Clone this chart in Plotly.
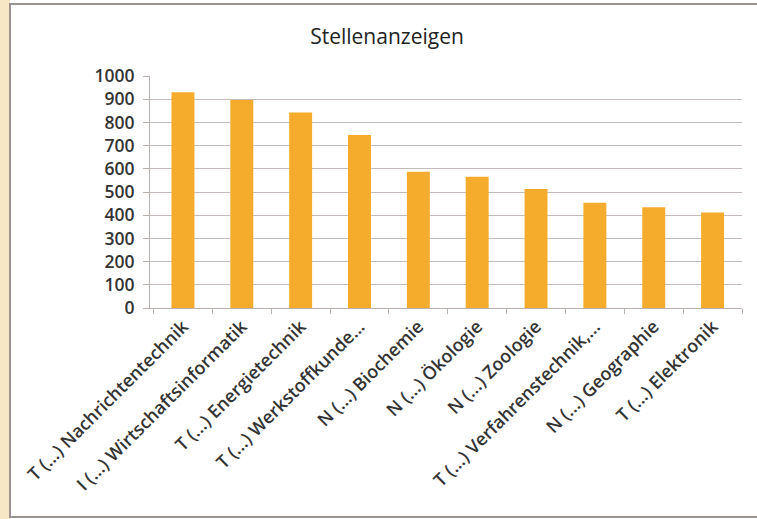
import plotly.graph_objects as go

# Stellenanzeigen je Studiengang
categories = [
    "T (...) Nachrichtentechnik",
    "I (...) Wirtschaftsinformatik",
    "T (...) Energietechnik",
    "T (...) Werkstoffkunde...",
    "N (...) Biochemie",
    "N (...) Ökologie",
    "N (...) Zoologie",
    "T (...) Verfahrenstechnik,...",
    "N (...) Geographie",
    "T (...) Elektronik",
]
values = [930, 897, 843, 746, 587, 566, 513, 454, 434, 412]
y_ticks = [0, 100, 200, 300, 400, 500, 600, 700, 800, 900, 1000]

W, H = 757, 519
L, R, T, B = 150, 15, 76, 211
pw, ph = W - L - R, H - T - B


def px_x(p):
    return (p - L) / pw


def px_y(p):
    return (H - B - p) / ph


fig = go.Figure(go.Bar(x=categories, y=values, marker_color="#F5AB2B",
                       marker_line_width=0))

fig.update_layout(
    width=W, height=H,
    margin=dict(l=L, r=R, t=T, b=B),
    paper_bgcolor="#FFFFFF", plot_bgcolor="#FFFFFF",
    font=dict(family="Open Sans, Liberation Sans, sans-serif", color="#333333"),
    title=dict(text="Stellenanzeigen", x=387 / W, xanchor="center",
               y=1 - 37 / H, yanchor="middle", yref="container",
               font=dict(size=21, color="#222222", weight=500)),
    bargap=0.61,
    showlegend=False,
    shapes=[
        dict(type="rect", xref="paper", yref="paper", layer="below",
             x0=px_x(-5), x1=px_x(10), y0=px_y(525), y1=px_y(-5),
             fillcolor="#F8E7C4", line_width=0),
        dict(type="rect", xref="paper", yref="paper", layer="below",
             x0=px_x(10), x1=px_x(765), y0=px_y(517), y1=px_y(4),
             fillcolor="#FFFFFF", line=dict(color="#9A9490", width=2)),
    ],
)

fig.update_xaxes(
    range=[-0.56, 9.5],
    tickangle=-45, tickfont=dict(size=18, color="#333333", weight=600),
    showline=True, linecolor="#B8B0AC", linewidth=1,
    ticks="outside", tickson="boundaries", ticklen=5, tickcolor="#B8B0AC",
    showgrid=False,
)
fig.update_yaxes(
    range=[0, 1000], tickvals=y_ticks,
    tickfont=dict(size=17.5, color="#333333", weight=600),
    showgrid=True, gridcolor="#C4BCB8", gridwidth=1,
    showline=True, linecolor="#B8B0AC", linewidth=1,
    ticks="outside", ticklen=6, tickcolor="#B8B0AC",
    ticklabelstandoff=5,
    zeroline=False,
)

fig.write_html("out.html", config={"displayModeBar": False},
               post_script="document.body.style.margin='0';")
